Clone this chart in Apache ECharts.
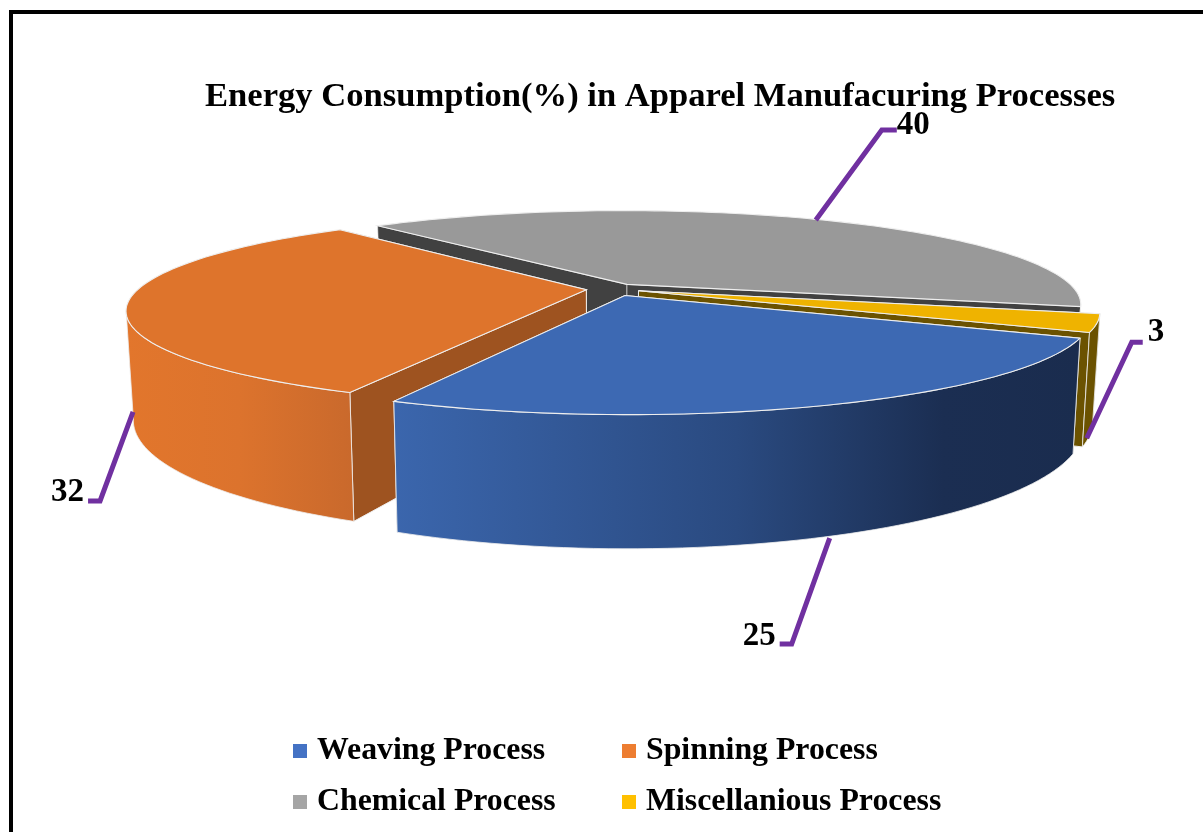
<!DOCTYPE html>
<html>
<head>
<meta charset="utf-8">
<style>html,body{margin:0;padding:0;background:#fff;overflow:hidden}#c{width:1203px;height:832px}</style>
<script src="https://cdn.jsdelivr.net/npm/echarts@6/dist/echarts.min.js"></script>
</head>
<body>
<div id="c"></div>
<script>
// ---- data ----
const titleText = 'Energy Consumption(%) in Apparel Manufacuring Processes';
const categories = ['Weaving Process', 'Spinning Process', 'Chemical Process', 'Miscellanious Process'];
const values = [25, 32, 40, 3];

// ---- style ----
const legendColors = ['#4472c4', '#ed7d31', '#a5a5a5', '#ffc000'];
const topColors = ['#3d69b3', '#de742c', '#999999', '#efb300'];
const cutColors = ['#1a2c4e', '#9e5320', '#414141', '#6b5200'];
const rimStops = [
  [[0, '#3b66ad'], [0.5, '#2a4a80'], [0.8, '#1b2e52'], [1, '#1a2c4e']],
  [[0, '#e2762c'], [0.5, '#dc732d'], [1, '#c9692c']],
  [[0, '#555555'], [1, '#555555']],
  [[0, '#6b5200'], [1, '#6b5200']]
];
const drawOrder = [2, 1, 3, 0];
const explodes = [0.075, 0.06, 0.06, 0.06];
// leader: shift of the start from the rim anchor, elbow offset, end offset, label offset
const leaders = [
  { shift: [6, 1], elbow: [-38, 106], end: [-12, 0], label: [-4, -8], align: 'right' },
  { shift: [-2, 2], elbow: [-33, 89], end: [-12, 0], label: [-4, -8], align: 'right' },
  { shift: [-7, 0], elbow: [66, -90], end: [15, 0], label: [0, -5], align: 'left' },
  { shift: [-3, 3], elbow: [45, -96], end: [11, 0], label: [5, -10], align: 'left' }
];

// ---- projection of the tilted disc ----
const cx = 613, cy = 289, Rx = 448, Ry = 91, persp = 0.21, depth = 104, bottomShrink = 0.985;
const startDeg = 24.5;
const total = values.reduce((a, b) => a + b, 0);
const rad = d => d * Math.PI / 180;
const silhouette = Math.asin(persp) * 180 / Math.PI;

function project(X, Y, bottom) {
  const p = 1 / (1 - persp * Y);
  return [
    cx + Rx * X * p * (bottom ? bottomShrink : 1),
    cy + Ry * Y * p + (bottom ? depth * p : 0)
  ];
}
function sliceStart(i) {
  let a = startDeg;
  for (let j = 0; j < i; j++) a += values[j] / total * 360;
  return a;
}
function renderSlice(i, params, api) {
  const v = api.value(0);
  const a0 = sliceStart(i);
  const a1 = a0 + v / total * 360;
  const mid = rad((a0 + a1) / 2);
  const ox = explodes[i] * Math.cos(mid), oy = explodes[i] * Math.sin(mid);
  const pt = (deg, bottom) => project(ox + Math.cos(rad(deg)), oy + Math.sin(rad(deg)), bottom);
  const apexT = project(ox, oy, false), apexB = project(ox, oy, true);
  const arc = (from, to, bottom) => {
    const out = [], n = Math.max(2, Math.ceil(Math.abs(to - from) / 1.5));
    for (let k = 0; k <= n; k++) out.push(pt(from + (to - from) * k / n, bottom));
    return out;
  };
  const edge = '#eeeeee';
  const children = [];
  // cut faces: the one facing away from the camera goes first
  const cuts = [[a0, -Math.cos(rad(a0))], [a1, Math.cos(rad(a1))]].sort((p, q) => p[1] - q[1]);
  cuts.forEach(([a]) => {
    children.push({
      type: 'polygon',
      shape: { points: [apexT, pt(a, false), pt(a, true), apexB] },
      style: { fill: cutColors[i], stroke: edge, lineWidth: i === 2 ? 0.6 : 1 }
    });
  });
  // outer wall: visible only on the camera-facing part of the circle
  const ranges = [[silhouette, 180 - silhouette], [360 + silhouette, 540 - silhouette]];
  ranges.forEach(([lo, hi]) => {
    const s = Math.max(a0, lo), e = Math.min(a1, hi);
    if (e > s) {
      children.push({
        type: 'polygon',
        shape: { points: arc(s, e, false).concat(arc(e, s, true)) },
        style: {
          fill: { type: 'linear', x: 0, y: 0, x2: 1, y2: 0, colorStops: rimStops[i].map(c => ({ offset: c[0], color: c[1] })) },
          stroke: edge, lineWidth: 0.8
        }
      });
    }
  });
  // top face
  children.push({
    type: 'polygon',
    shape: { points: [apexT].concat(arc(a0, a1, false)) },
    style: { fill: topColors[i], stroke: edge, lineWidth: 1.1 }
  });
  // leader line + value label
  const midDeg = (a0 + a1) / 2;
  const front = Math.sin(mid) > 0;
  const rim = pt(midDeg, front);
  const L = leaders[i];
  const anchor = [rim[0] + L.shift[0], rim[1] + L.shift[1]];
  const e1 = [anchor[0] + L.elbow[0], anchor[1] + L.elbow[1]];
  const e2 = [e1[0] + L.end[0], e1[1] + L.end[1]];
  children.push({
    type: 'polyline', z2: 50,
    shape: { points: [anchor, e1, e2] },
    style: { stroke: '#7030a0', lineWidth: 5, fill: 'none' }
  });
  children.push({
    type: 'text', z2: 51,
    style: {
      text: String(v), x: e2[0] + L.label[0], y: e2[1] + L.label[1],
      align: L.align, verticalAlign: 'middle',
      font: 'bold 33px "Liberation Serif"', fill: '#000000'
    }
  });
  return { type: 'group', children };
}

const chart = echarts.init(document.getElementById('c'), null, { renderer: 'canvas' });
const legendText = { fontFamily: 'Liberation Serif', fontWeight: 'bold', fontSize: 31.8, color: '#000', padding: [0, 0, 0, 5] };
chart.setOption({
  animation: false,
  backgroundColor: '#ffffff',
  title: {
    text: titleText, left: 200, top: 75,
    textStyle: { fontFamily: 'Liberation Serif', fontWeight: 'bold', fontSize: 34.6, color: '#000' }
  },
  legend: [
    { left: 288, top: 730, orient: 'vertical', itemWidth: 14, itemHeight: 14, itemGap: 19, icon: 'rect', selectedMode: false,
      data: [categories[0], categories[2]], textStyle: legendText },
    { left: 617, top: 730, orient: 'vertical', itemWidth: 14, itemHeight: 14, itemGap: 19, icon: 'rect', selectedMode: false,
      data: [categories[1], categories[3]], textStyle: legendText }
  ],
  graphic: [{
    type: 'rect', silent: true,
    shape: { x: 11, y: 12, width: 1300, height: 900 },
    style: { fill: 'none', stroke: '#000', lineWidth: 4 }
  }],
  series: drawOrder.map((i, order) => ({
    type: 'custom',
    name: categories[i],
    coordinateSystem: 'none',
    z: 2 + order,
    silent: true,
    itemStyle: { color: legendColors[i] },
    data: [[values[i]]],
    renderItem: (params, api) => renderSlice(i, params, api)
  }))
});
</script>
</body>
</html>
